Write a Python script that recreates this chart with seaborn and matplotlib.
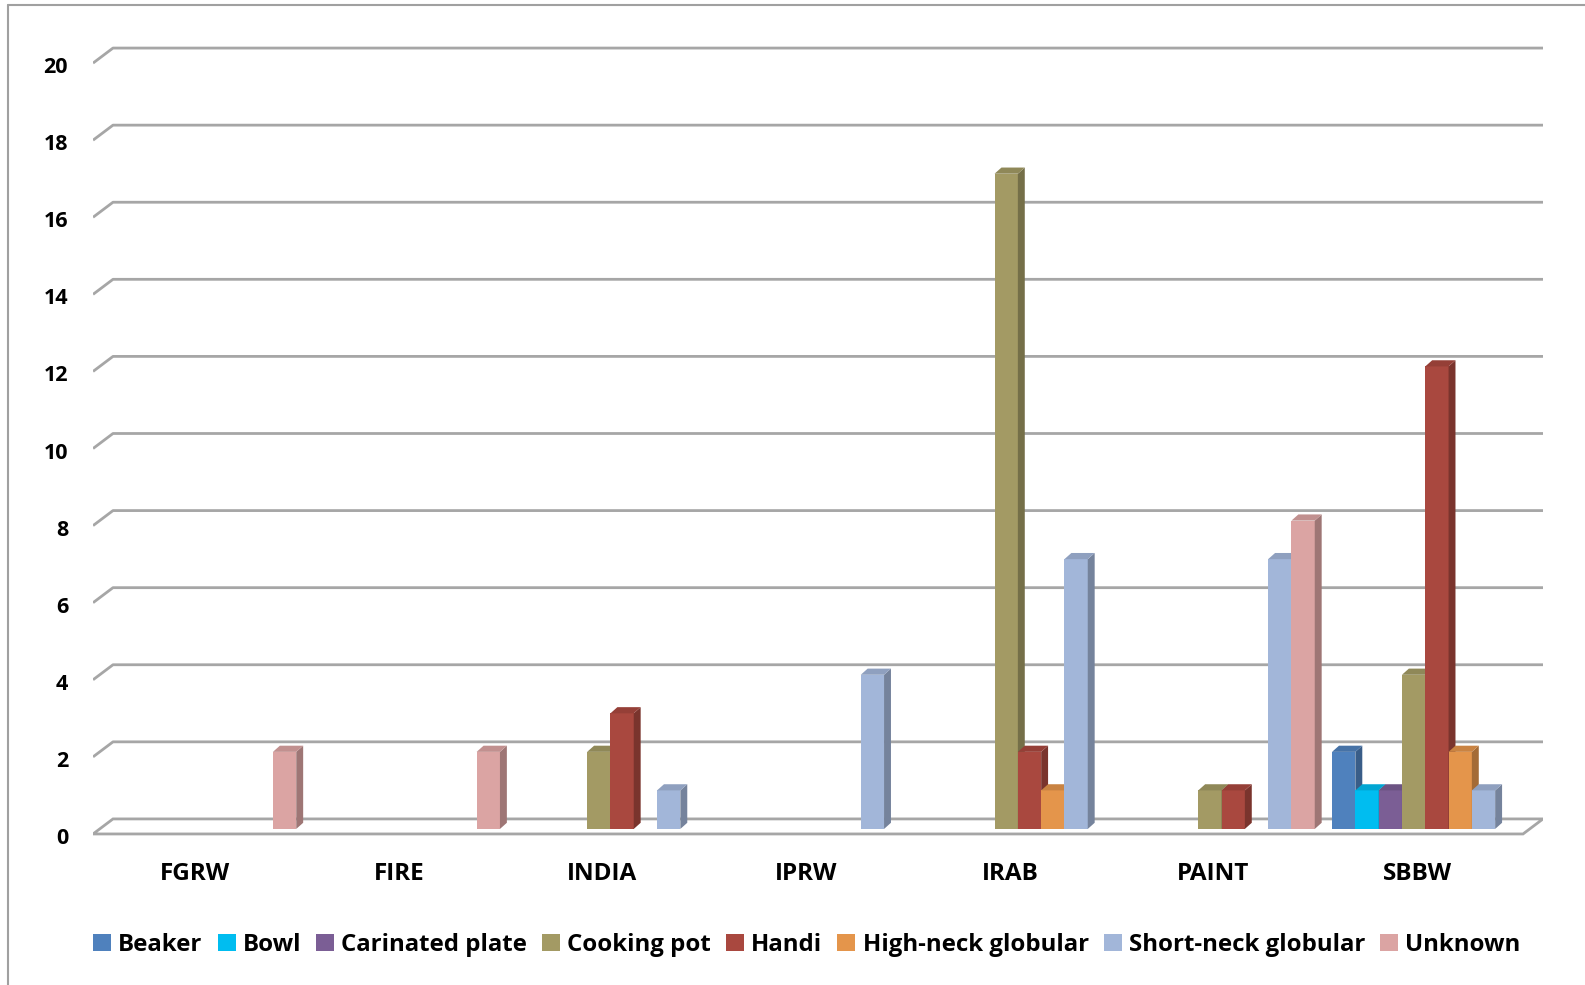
import matplotlib
matplotlib.use("Agg")
import matplotlib.pyplot as plt
import matplotlib.colors as mcolors
from matplotlib.patches import Polygon
from matplotlib.lines import Line2D
from matplotlib.transforms import ScaledTranslation
import numpy as np
import pandas as pd
import seaborn as sns

CATEGORIES = ["FGRW", "FIRE", "INDIA", "IPRW", "IRAB", "PAINT", "SBBW"]
SERIES = ["Beaker", "Bowl", "Carinated plate", "Cooking pot", "Handi",
          "High-neck globular", "Short-neck globular", "Unknown"]
BEAKER = [0, 0, 0, 0, 0, 0, 2]
BOWL = [0, 0, 0, 0, 0, 0, 1]
CARINATED = [0, 0, 0, 0, 0, 0, 1]
COOKING_POT = [0, 0, 2, 0, 17, 1, 4]
HANDI = [0, 0, 3, 0, 2, 1, 12]
HIGH_NECK = [0, 0, 0, 0, 1, 0, 2]
SHORT_NECK = [0, 0, 1, 4, 7, 7, 1]
UNKNOWN = [2, 2, 0, 0, 0, 8, 0]
Y_TICKS = list(range(0, 21, 2))

COLORS = ["#4F81BD", "#00BDF0", "#7B5E95", "#A39A64", "#A9483F",
          "#E4954B", "#A2B6D9", "#DBA4A3"]
GRID = "#A6A6A6"
FONT = ["Open Sans", "DejaVu Sans"]

# fake 3D depth, in data units
DX, DY = 0.034, 0.16
WALL_DX, WALL_BACK, WALL_FRONT = 0.098, 0.26, 0.13


def shade(color, f):
    r, g, b = mcolors.to_rgb(color)
    return (r * f, g * f, b * f)


def main() -> None:
    sns.set_theme(style="white")
    plt.rcParams["font.family"] = FONT
    plt.rcParams["font.weight"] = "bold"

    values = [BEAKER, BOWL, CARINATED, COOKING_POT, HANDI, HIGH_NECK, SHORT_NECK, UNKNOWN]
    df = pd.DataFrame(
        [(c, s, v[i]) for s, v in zip(SERIES, values) for i, c in enumerate(CATEGORIES)],
        columns=["ware", "form", "count"],
    )

    fig = plt.figure(figsize=(15.85, 9.85), dpi=100)
    ax = fig.add_axes([0.0587, 0.1371, 0.9148, 0.8325])
    sns.barplot(data=df, x="ware", y="count", hue="form", hue_order=SERIES,
                order=CATEGORIES, palette=COLORS, width=0.915, linewidth=0,
                saturation=1, ax=ax)
    handles, labels = ax.get_legend_handles_labels()
    ax.legend_.remove()

    x0, x1 = -0.540, 6.578
    ax.set_xlim(x0, x1)
    ax.set_ylim(-0.545, 20.73)
    for s in ax.spines.values():
        s.set_visible(False)

    # back wall gridlines and floor
    for v in Y_TICKS[1:]:
        ax.plot([x0, x0 + WALL_DX, x1], [v - WALL_FRONT, v + WALL_BACK, v + WALL_BACK],
                color=GRID, lw=2.0, zorder=1, solid_capstyle="butt")
    floor = Polygon([(x0, -WALL_FRONT), (x0 + WALL_DX, WALL_BACK), (x1, WALL_BACK),
                     (x1 - WALL_DX, -WALL_FRONT)], closed=True, facecolor="white",
                    edgecolor=GRID, lw=2.0, zorder=1)
    ax.add_patch(floor)

    # side and top faces for the bars
    bars = sorted([p for p in ax.patches if p is not floor and p.get_height() > 0],
                  key=lambda p: p.get_x())
    for k, p in enumerate(bars):
        x, w, h = p.get_x(), p.get_width(), p.get_height()
        col = p.get_facecolor()
        z = 3 + k * 0.01
        p.set_zorder(z)
        side = Polygon([(x + w, 0), (x + w + DX, DY), (x + w + DX, h + DY), (x + w, h)],
                       closed=True, facecolor=shade(col, 0.72), lw=0, zorder=z)
        top = Polygon([(x, h), (x + DX, h + DY), (x + w + DX, h + DY), (x + w, h)],
                      closed=True, facecolor=shade(col, 0.88), lw=0, zorder=z)
        ax.add_patch(side)
        ax.add_patch(top)

    ax.set_yticks(Y_TICKS)
    ax.set_yticklabels([str(t) for t in Y_TICKS], fontsize=15.5, fontweight="bold")
    ax.tick_params(axis="y", length=0, pad=18, labelcolor="black")
    ax.tick_params(axis="x", length=0, pad=9, labelcolor="black")
    ax.set_xticks(range(len(CATEGORIES)))
    ax.set_xticklabels(CATEGORIES, fontsize=17.5, fontweight="bold")
    ax.set_xlabel("")
    ax.set_ylabel("")
    for lab in ax.get_yticklabels():
        lab.set_transform(lab.get_transform() + ScaledTranslation(0, -0.07, fig.dpi_scale_trans))
    for lab in ax.get_xticklabels():
        lab.set_transform(lab.get_transform() + ScaledTranslation(-0.08, 0, fig.dpi_scale_trans))

    fig.legend(handles, labels, loc="center", bbox_to_anchor=(0.509, 1 - 945 / 985),
               ncol=8, frameon=False, handlelength=0.75, handleheight=0.75,
               handletextpad=0.3, columnspacing=0.62, labelcolor="black",
               prop={"family": FONT, "weight": "bold", "size": 17.3})

    # chart-area border (top and left edges visible)
    fig.add_artist(Line2D([8 / 1585, 1], [1 - 5 / 985, 1 - 5 / 985], color="#A0A0A0", lw=1.5))
    fig.add_artist(Line2D([8 / 1585, 8 / 1585], [0, 1 - 5 / 985], color="#A0A0A0", lw=1.5))

    fig.savefig("out.png", dpi=100)
    plt.close(fig)


if __name__ == "__main__":
    main()
